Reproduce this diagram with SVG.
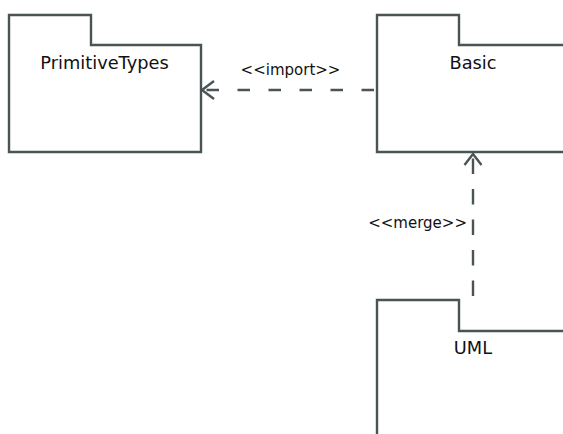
<svg xmlns="http://www.w3.org/2000/svg" width="563" height="434" viewBox="0 0 563 434">
  <style>
    .pkg { fill: #ffffff; stroke: #4a5454; stroke-width: 2.4; stroke-linejoin: miter; }
    .name { font-family: "DejaVu Sans", "Liberation Sans", sans-serif; font-size: 17.8px; fill: #111111; text-anchor: middle; }
    .lbl { font-family: "DejaVu Sans", "Liberation Sans", sans-serif; font-size: 15px; fill: #111111; }
    .dep { fill: none; stroke: #4a5454; stroke-width: 2.4; }
    .head { fill: none; stroke: #4a5454; stroke-width: 2.4; stroke-linejoin: miter; stroke-linecap: butt; }
  </style>
  <rect width="563" height="434" fill="#ffffff"/>

  <!-- package: PrimitiveTypes -->
  <g id="pkg-primitivetypes">
    <path class="pkg" d="M9,45 V15 H91 V45 H201 V152 H9 Z"/>
    <text class="name" x="104.5" y="68.5">PrimitiveTypes</text>
  </g>

  <!-- package: Basic (extends past the right edge) -->
  <g id="pkg-basic">
    <path class="pkg" d="M569,45 H459 V15 H377 V152 H569"/>
    <text class="name" x="473" y="68.5">Basic</text>
  </g>

  <!-- package: UML (extends past the right and bottom edges) -->
  <g id="pkg-uml">
    <path class="pkg" d="M569,331 H459 V300 H377 V440"/>
    <text class="name" x="473" y="354">UML</text>
  </g>

  <!-- dependencies -->
  <g id="connectors">
    <!-- Basic imports PrimitiveTypes -->
    <path class="dep" d="M202,90 H376" stroke-dasharray="12.5 18.5" stroke-dashoffset="26.5"/>
    <path class="head" d="M214,81 L202,90 L214,99"/>
    <text class="lbl" x="290.5" y="75" text-anchor="middle">&lt;&lt;import&gt;&gt;</text>

    <!-- UML merges Basic -->
    <path class="dep" d="M473,296 V154" stroke-dasharray="15.5 15" stroke-dashoffset="0"/>
    <path class="head" d="M464.5,165 L473,154 L481.5,165"/>
    <text class="lbl" x="467" y="228" text-anchor="end">&lt;&lt;merge&gt;&gt;</text>
  </g>
</svg>
